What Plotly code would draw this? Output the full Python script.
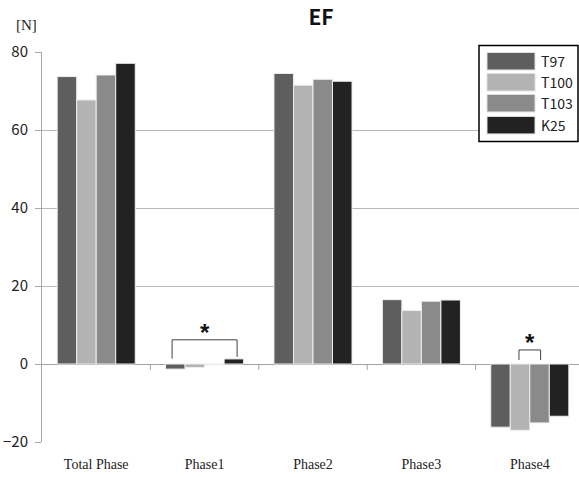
import plotly.graph_objects as go

categories = ["Total Phase", "Phase1", "Phase2", "Phase3", "Phase4"]
series_names = ["T97", "T100", "T103", "K25"]
t97 = [73.7, -1.3, 74.5, 16.5, -16.2]
t100 = [67.7, -0.9, 71.5, 13.7, -17.0]
t103 = [74.1, -0.1, 73.0, 16.1, -15.1]
k25 = [77.1, 1.3, 72.5, 16.4, -13.4]
colors = ["#5e5e5e", "#b3b3b3", "#8a8a8a", "#222222"]
y_ticks = [-20, 0, 20, 40, 60, 80]

# significance brackets: (category index, left offset, right offset, top y, left leg bottom, right leg bottom)
brackets = [(1, -0.30, 0.30, 6.2, 1.4, 1.8), (4, -0.10, 0.10, 3.6, 1.0, 1.0)]

W, H = 579, 477
ML, MR, MT, MB = 42, 0, 51.5, 35
PW, PH = W - ML - MR, H - MT - MB


def px_x(px):
    return (px - ML) / PW


def px_y(py):
    return 1 - (py - MT) / PH


fig = go.Figure()
for name, vals, col in zip(series_names, [t97, t100, t103, k25], colors):
    fig.add_trace(go.Bar(
        name=name, x=list(range(len(categories))), y=vals,
        marker=dict(color=col, line=dict(color="#eeeeee", width=1)),
        showlegend=False,
    ))

shapes = []
# category boundary ticks on the zero line
for b in [0.5, 1.5, 2.5, 3.5]:
    shapes.append(dict(type="line", xref="x", yref="y", x0=b, x1=b, y0=0, y1=-6,
                       ysizemode="pixel", yanchor=0,
                       line=dict(color="#a0a0a0", width=1)))
annotations = []
for ci, lo, ro, top, lb, rb in brackets:
    shapes.append(dict(type="path", xref="x", yref="y",
                       path=f"M {ci+lo},{lb} L {ci+lo},{top} L {ci+ro},{top} L {ci+ro},{rb}",
                       line=dict(color="#404040", width=1)))
    annotations.append(dict(x=ci + (lo + ro) / 2, y=top, xref="x", yref="y",
                            text="<b>*</b>", showarrow=False, yanchor="bottom",
                            yshift=-8,
                            font=dict(size=24, color="#111111", family="Liberation Sans")))

# legend box (drawn manually to get the wide swatches of the original)
shapes.append(dict(type="rect", xref="paper", yref="paper",
                   x0=px_x(479), x1=px_x(578), y0=px_y(141), y1=px_y(45),
                   fillcolor="white", line=dict(color="black", width=1.5), layer="above"))
row_top = [52, 73, 94, 116]
for name, col, top in zip(series_names, colors, row_top):
    shapes.append(dict(type="rect", xref="paper", yref="paper",
                       x0=px_x(487), x1=px_x(535), y0=px_y(top + 17.5), y1=px_y(top),
                       fillcolor=col, line=dict(color="#e0e0e0", width=1), layer="above"))
    annotations.append(dict(x=px_x(539), y=px_y(top + 8.5), xref="paper", yref="paper",
                            text=name, showarrow=False, xanchor="left", yanchor="middle",
                            font=dict(size=14, family="Noto Sans CJK KR", color="#222222")))

annotations.append(dict(x=px_x(26), y=px_y(24), xref="paper", yref="paper", text="[N]",
                        showarrow=False, xanchor="center", yanchor="middle",
                        font=dict(size=15, family="Liberation Serif", color="#222222")))

fig.update_layout(
    width=W, height=H,
    margin=dict(l=ML, r=MR, t=MT, b=MB, autoexpand=False),
    paper_bgcolor="white", plot_bgcolor="white",
    barmode="group", bargap=0.28, bargroupgap=0,
    title=dict(text="<b>EF</b>", x=321 / W, xanchor="center", y=1 - 18 / H, yanchor="middle",
               font=dict(size=21, family="Noto Sans CJK KR", color="#111111")),
    showlegend=False,
    xaxis=dict(range=[-0.5, 4.5 - 5 / 108.5], tickmode="array",
               tickvals=list(range(len(categories))), ticktext=categories,
               showgrid=False, showline=False, zeroline=False, ticks="",
               automargin=False, ticklabelstandoff=12,
               tickfont=dict(size=14, family="Liberation Serif", color="#222222")),
    yaxis=dict(range=[-20, 80], tickmode="array", tickvals=y_ticks,
               showgrid=True, gridcolor="#b8b8b8", gridwidth=1,
               zeroline=True, zerolinecolor="#a0a0a0", zerolinewidth=1,
               showline=True, linecolor="#a8a8a8", linewidth=1,
               ticks="outside", ticklen=6, tickcolor="#a8a8a8",
               automargin=False, ticklabelstandoff=4,
               tickfont=dict(size=15, family="Noto Sans CJK KR", color="#222222")),
    shapes=shapes, annotations=annotations,
)

fig.write_html("out.html", config={"displayModeBar": False},
               post_script="document.body.style.margin='0';document.body.style.padding='0';"
                           "document.body.style.overflow='hidden';")
